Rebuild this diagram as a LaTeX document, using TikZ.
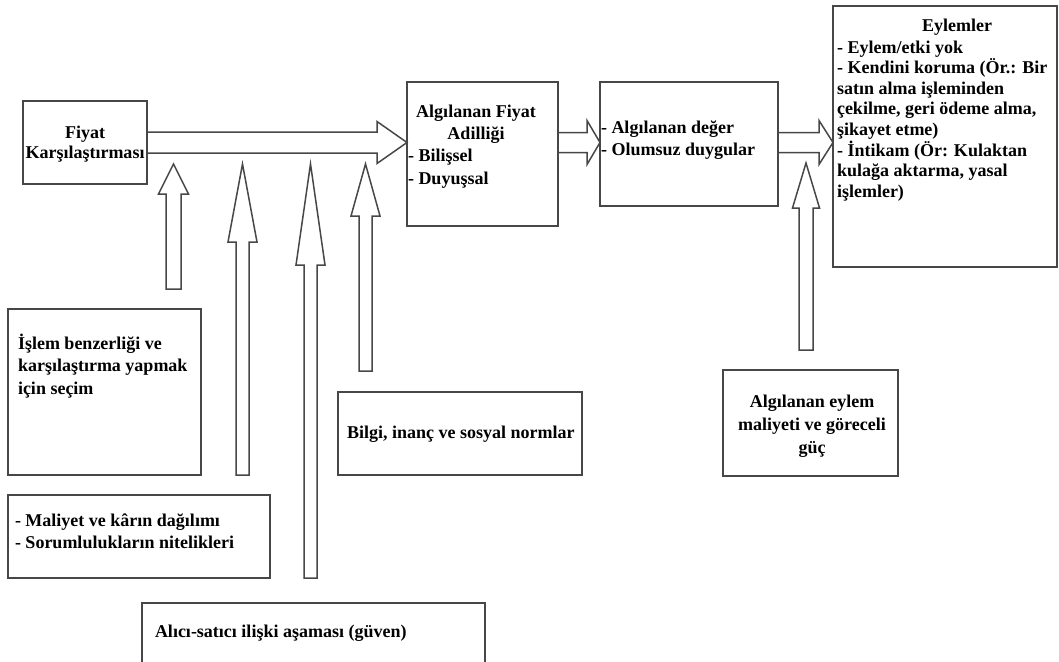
\documentclass[tikz,border=0pt]{standalone}
\usepackage{fontspec}
\setmainfont{Liberation Serif}
\usetikzlibrary{calc}

\tikzset{
  box/.style={draw=black!72, line width=1.6pt, inner sep=0pt, outer sep=0pt},
  % multi-line text, placed by the baseline of its last line
  txt/.style={inner sep=0pt, outer sep=0pt, anchor=base west, align=left,
              font={\fontsize{18}{#1}\selectfont\bfseries}},
  txt/.default=20.6,
  ctxt/.style={inner sep=0pt, outer sep=0pt, anchor=base, align=center,
              font={\fontsize{18}{#1}\selectfont\bfseries}},
  ctxt/.default=20.6,
  arrowline/.style={draw=black!72, line width=1.5pt, line join=miter},
  % hollow block arrow: #1 half shaft width, #2 half head width, #3 head length
  blockarrow/.style n args={3}{arrowline, to path={
    coordinate (headbase) at ($(\tikztotarget)!#3!(\tikztostart)$)
    ($(\tikztostart)!#1!90:(\tikztotarget)$)
      -- ($(headbase)!#1!90:(\tikztotarget)$)
      -- ($(headbase)!#2!90:(\tikztotarget)$)
      -- (\tikztotarget)
      -- ($(headbase)!#2!-90:(\tikztotarget)$)
      -- ($(headbase)!#1!-90:(\tikztotarget)$)
      -- ($(\tikztostart)!#1!-90:(\tikztotarget)$)
  }},
  % same block arrow, closed at its tail
  closedarrow/.style n args={3}{arrowline, to path={
    coordinate (headbase) at ($(\tikztotarget)!#3!(\tikztostart)$)
    ($(\tikztostart)!#1!90:(\tikztotarget)$)
      -- ($(headbase)!#1!90:(\tikztotarget)$)
      -- ($(headbase)!#2!90:(\tikztotarget)$)
      -- (\tikztotarget)
      -- ($(headbase)!#2!-90:(\tikztotarget)$)
      -- ($(headbase)!#1!-90:(\tikztotarget)$)
      -- ($(\tikztostart)!#1!-90:(\tikztotarget)$) -- cycle
  }}
}

\begin{document}
\begin{tikzpicture}[x=1pt, y=-1pt]
\fill[white] (0,0) rectangle (1059,661);
\useasboundingbox (0,0) rectangle (1059,661);
\clip (0,0) rectangle (1059,661);

% ---- boxes ----
\node[box, minimum width=124pt, minimum height=83pt]  (fiyat)   at (85,142.5)   {};
\node[box, minimum width=151pt, minimum height=144pt] (afa)     at (482.5,154)  {};
\node[box, minimum width=178pt, minimum height=124pt] (deger)   at (689,144)    {};
\node[box, minimum width=224pt, minimum height=261pt] (eylem)   at (945,136.5)  {};
\node[box, minimum width=193pt, minimum height=166pt] (islem)   at (104.5,392)  {};
\node[box, minimum width=262pt, minimum height=83pt]  (maliyet) at (139,536.5)  {};
\node[box, minimum width=343pt, minimum height=80pt]  (alici)   at (313.5,643)  {};
\node[box, minimum width=244pt, minimum height=83pt]  (bilgi)   at (460,433.5)  {};
\node[box, minimum width=175pt, minimum height=106pt] (guc)     at (810.5,423)  {};

% ---- texts ----
\node[ctxt] (fiyatT) at (85,158.6) {Fiyat\\Karşılaştırması};
\node[ctxt=22.3] (afaH) at (476,139.3) {Algılanan Fiyat\\Adilliği};
\node[txt=22.3] (afaT) at (408,184) {- Bilişsel\\- Duyuşsal};
\node[txt=22] (degerT) at (601,155) {- Algılanan değer\\- Olumsuz duygular};
\node[ctxt] (eylemH) at (957,32) {Eylemler};
\node[txt=20.6] (eylemT) at (837,197.2)
  {- Eylem/etki yok\\- Kendini koruma (Ör.: Bir\\satın alma işleminden\\çekilme, geri ödeme alma,\\şikayet etme)\\- İntikam (Ör: Kulaktan\\kulağa aktarma, yasal\\işlemler)};
\node[txt=22.7] (islemT) at (18,394.5)
  {İşlem benzerliği ve\\karşılaştırma yapmak\\için seçim};
\node[txt=22] (maliyetT) at (15,548)
  {- Maliyet ve kârın dağılımı\\- Sorumlulukların nitelikleri};
\node[txt] (aliciT) at (155,637) {Alıcı-satıcı ilişki aşaması (güven)};
\node[txt] (bilgiT) at (347,438) {Bilgi, inanç ve sosyal normlar};
\node[ctxt=23] (gucT) at (812,453) {Algılanan eylem\\maliyeti ve göreceli\\güç};

% ---- main flow ----
\draw[blockarrow={10.5pt}{21pt}{30pt}] (fiyat.east) to (afa.west |- fiyat.east);
\draw[blockarrow={10pt}{22pt}{13pt}] (afa.east |- fiyat.east) to (deger.west |- fiyat.east);
\draw[blockarrow={10pt}{22pt}{14pt}] (deger.east |- fiyat.east) to (eylem.west |- fiyat.east);

% ---- influences from below ----
\coordinate (v1tail) at (173.5,289);  \coordinate (v1tip) at (173.5,164);
\coordinate (v2tail) at (242.5,475);  \coordinate (v2tip) at (242.5,164);
\coordinate (v3tail) at (310.5,578);  \coordinate (v3tip) at (310.5,164);
\coordinate (v4tail) at (365.5,371);  \coordinate (v4tip) at (365.5,164);
\coordinate (v5tail) at (806,350);    \coordinate (v5tip) at (806,163);

\draw[closedarrow={7.5pt}{15pt}{30pt}]   (v1tail) to (v1tip);
\draw[closedarrow={6.5pt}{14.5pt}{78pt}] (v2tail) to (v2tip);
\draw[closedarrow={6.5pt}{14.5pt}{101pt}] (v3tail) to (v3tip);
\draw[closedarrow={6.5pt}{14.5pt}{52pt}] (v4tail) to (v4tip);
\draw[closedarrow={7pt}{13.5pt}{45pt}]   (v5tail) to (v5tip);
\end{tikzpicture}
\end{document}
